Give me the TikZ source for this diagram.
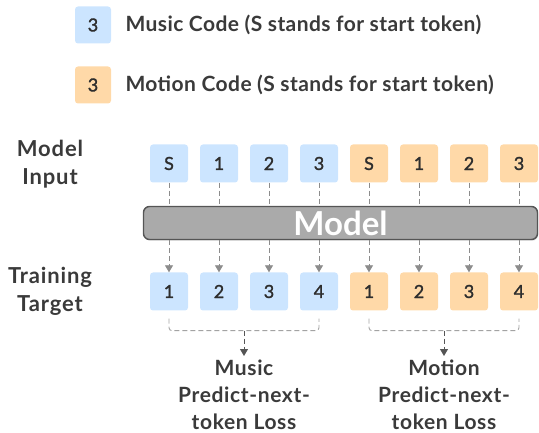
\documentclass[tikz,border=0pt]{standalone}
\usepackage{fontspec}
\setmainfont{Lato}
\newfontfamily\latosp[LetterSpace=4]{Lato}
\newfontfamily\latospb[LetterSpace=3]{Lato}
\newfontfamily\latolg[LetterSpace=2]{Lato}
\newfontfamily\latotok[FakeBold=1.5]{Lato}
\usetikzlibrary{arrows.meta,calc,shadows}
\definecolor{musicc}{HTML}{CCE5FF}
\definecolor{motionc}{HTML}{FFD9A8}
\definecolor{txt}{HTML}{3A3A3A}
\definecolor{toktxt}{HTML}{2E2E2E}
\definecolor{barfill}{HTML}{AAAAAA}
\definecolor{barline}{HTML}{555555}
\definecolor{arr}{HTML}{8C8C8C}
\begin{document}
\begin{tikzpicture}[x=1pt,y=-1pt,
  tok/.style={rounded corners=3pt,minimum width=38pt,minimum height=38pt,inner sep=0pt,text=toktxt,font=\latotok\fontsize{18}{20}\selectfont},
  mus/.style={tok,fill=musicc},
  mot/.style={tok,fill=motionc},
  lbl/.style={text=txt,font=\latosp\bfseries\fontsize{22}{28}\selectfont,align=center},
  blbl/.style={text=txt,font=\latospb\bfseries\fontsize{21}{27}\selectfont,align=center},
  leg/.style={text=txt,font=\latolg\bfseries\fontsize{21}{24}\selectfont,anchor=west},
  dsh/.style={draw=arr,dashed,dash pattern=on 5pt off 3pt,line width=0.9pt},
  dar/.style={dsh,-{Triangle[length=7pt,width=8pt]}},
  brk/.style={draw=arr!80,dashed,dash pattern=on 5pt off 3pt,line width=0.9pt,rounded corners=3pt}]
\useasboundingbox (0,0) rectangle (539,433);
% legend
\node[mus,minimum width=36pt,minimum height=37pt] (lm) at (93,25) {3};
\node[leg] (lmt) at (122,25) {Music Code (S stands for start token)};
\node[mot,minimum width=36pt,minimum height=37pt] (lo) at (93,85) {3};
\node[leg] (lot) at (122,85) {Motion Code (S stands for start token)};
% side labels
\node[lbl] (inl) at (50,164) {Model\\Input};
\node[lbl] (tgl) at (50,291) {Training\\Target};
% model bar
\node[draw=barline,fill=barfill,line width=1.4pt,rounded corners=6pt,minimum width=394pt,minimum height=33pt,inner sep=0pt,
  drop shadow={opacity=0.25,shadow xshift=0.8pt,shadow yshift=-1.2pt},
  text=white,font=\bfseries\fontsize{33}{33}\selectfont] (model) at (340.5,223) {Model};
% tokens
\foreach \i/\t/\u/\s in {1/S/1/mus,2/1/2/mus,3/2/3/mus,4/3/4/mus,5/S/1/mot,6/1/2/mot,7/2/3/mot,8/3/4/mot}{
  \node[\s] (in\i) at ({119+50*\i},163.5) {\t};
  \node[\s] (tg\i) at ({119+50*\i},291.5) {\u};
  \draw[dsh] (in\i.south) -- (in\i.south |- model.north);
  \draw[dar] (in\i.south |- model.south) -- (tg\i.north);
}
% brackets
\coordinate (bm) at ($(tg2.south)!0.5!(tg3.south)+(0,20)$);
\coordinate (bo) at ($(tg6.south)!0.5!(tg7.south)+(0,20)$);
\draw[brk] ($(tg1.south)+(0,8)$) -- ($(tg1.south)+(0,20)$) -- ($(tg4.south)+(0,20)$) -- ($(tg4.south)+(0,8)$);
\draw[brk] ($(tg5.south)+(0,8)$) -- ($(tg5.south)+(0,20)$) -- ($(tg8.south)+(0,20)$) -- ($(tg8.south)+(0,8)$);
\node[blbl,anchor=north] (ml) at (244,356) {Music\\Predict-next-\\token Loss};
\node[blbl,anchor=north] (ol) at (444,356) {Motion\\Predict-next-\\token Loss};
\draw[dar,draw=barline] (bm) -- (ml.north);
\draw[dar,draw=barline] (bo) -- (ol.north);
\end{tikzpicture}
\end{document}
